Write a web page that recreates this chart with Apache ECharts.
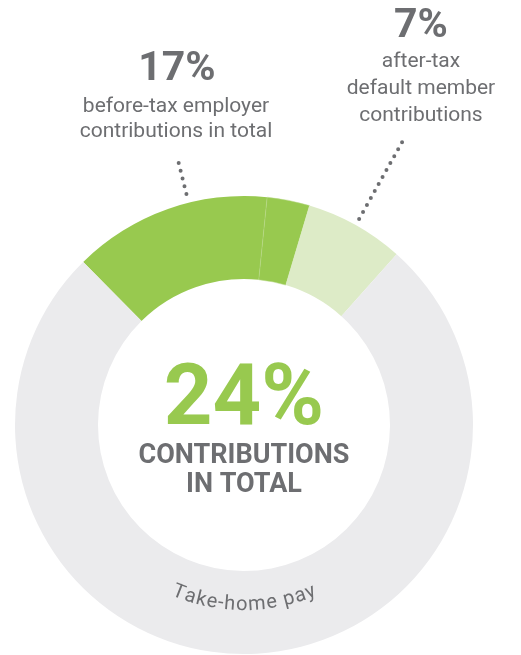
<!DOCTYPE html>
<html>
<head>
<meta charset="utf-8">
<script src="https://cdn.jsdelivr.net/npm/echarts@6/dist/echarts.min.js"></script>
<style>
  html, body { margin: 0; padding: 0; background: #fff; }
  #chart { width: 521px; height: 655px; }
</style>
</head>
<body>
<div id="chart"></div>
<script>
// slices, clockwise from the left edge of the green part
var sliceNames = ['Before-tax employer (a)', 'Before-tax employer (b)', 'After-tax default member', 'Take-home pay'];
var sliceValues = [14, 3, 7, 76];
var sliceColors = ['#98c94f', '#98c94f', '#ddebc7', '#ebebed'];

var centerValue = '24%';
var centerLines = ['CONTRIBUTIONS', 'IN TOTAL'];
var leftValue = '17%';
var leftLines = ['before-tax employer', 'contributions in total'];
var rightValue = '7%';
var rightLines = ['after-tax', 'default member', 'contributions'];
var ringText = 'Take-home pay';

var cx = 244, cy = 425, rIn = 146, rOut = 229, startAngle = 134.6;
var grey = '#6d6e71';
var font = 'Roboto, "Noto Sans", sans-serif';

var total = 0;
sliceValues.forEach(function (v) { total += v; });

// angle (deg, math convention) of the middle of slices [from..to]
function midAngle(from, to) {
    var before = 0, span = 0;
    for (var i = 0; i < sliceValues.length; i++) {
        if (i < from) before += sliceValues[i];
        else if (i <= to) span += sliceValues[i];
    }
    return startAngle - (before + span / 2) / total * 360;
}

function polar(r, deg) {
    var a = deg * Math.PI / 180;
    return [cx + r * Math.cos(a), cy - r * Math.sin(a)];
}

function leader(deg, r1, r2) {
    var p1 = polar(r1, deg), p2 = polar(r2, deg);
    return {
        type: 'line', z: 100,
        shape: { x1: p1[0], y1: p1[1], x2: p2[0], y2: p2[1] },
        style: { stroke: grey, lineWidth: 4, lineDash: [0, 8], lineCap: 'round' },
        silent: true
    };
}

function text(str, x, y, size, weight, color) {
    return {
        type: 'text', x: x, y: y, z: 100, silent: true,
        style: {
            text: str, fill: color || grey, fontSize: size, fontWeight: weight || 'normal',
            fontFamily: font, align: 'center', verticalAlign: 'middle'
        }
    };
}

var graphics = [];
graphics.push(leader(midAngle(0, 1), 238, 276));
graphics.push(leader(midAngle(2, 2), 236, 330));

graphics.push(text(leftValue, 177, 70, 41, 'bold'));
leftLines.forEach(function (l, i) { graphics.push(text(l, 176, 107 + i * 25, 21)); });
graphics.push(text(rightValue, 421, 27, 41, 'bold'));
rightLines.forEach(function (l, i) { graphics.push(text(l, 421, 62 + i * 27, 21)); });

graphics.push(text(centerValue, 244, 403, 85, 'bold', '#98c94f'));
centerLines.forEach(function (l, i) { graphics.push(text(l, 244, 456 + i * 29, 27, 'bold')); });

// curved ring label along the bottom of the ring
var ctx = document.createElement('canvas').getContext('2d');
var ringSize = 20, ringR = 180, ringGap = 0.8;
ctx.font = ringSize + 'px ' + font;
var widths = ringText.split('').map(function (c) { return ctx.measureText(c).width + ringGap; });
var w = widths.reduce(function (a, b) { return a + b; }, 0);
var s = -w / 2;
ringText.split('').forEach(function (c, i) {
    var phi = (s + widths[i] / 2) / ringR;
    s += widths[i];
    graphics.push({
        type: 'text', silent: true, z: 100,
        x: cx + ringR * Math.sin(phi), y: cy + ringR * Math.cos(phi), rotation: phi,
        style: { text: c, fill: grey, fontSize: ringSize, fontFamily: font, align: 'center', verticalAlign: 'middle' }
    });
});

var chart = echarts.init(document.getElementById('chart'), null, { renderer: 'canvas' });
chart.setOption({
    backgroundColor: '#ffffff',
    animation: false,
    series: [{
        type: 'pie',
        center: [cx, cy],
        radius: [rIn, rOut],
        startAngle: startAngle,
        clockwise: true,
        silent: true,
        label: { show: false },
        labelLine: { show: false },
        data: sliceNames.map(function (n, i) {
            return {
                name: n, value: sliceValues[i],
                itemStyle: {
                    color: sliceColors[i],
                    borderWidth: i === 1 ? 0.5 : 0,
                    borderColor: '#b9d98a'
                }
            };
        })
    }],
    graphic: graphics
});
</script>
</body>
</html>
